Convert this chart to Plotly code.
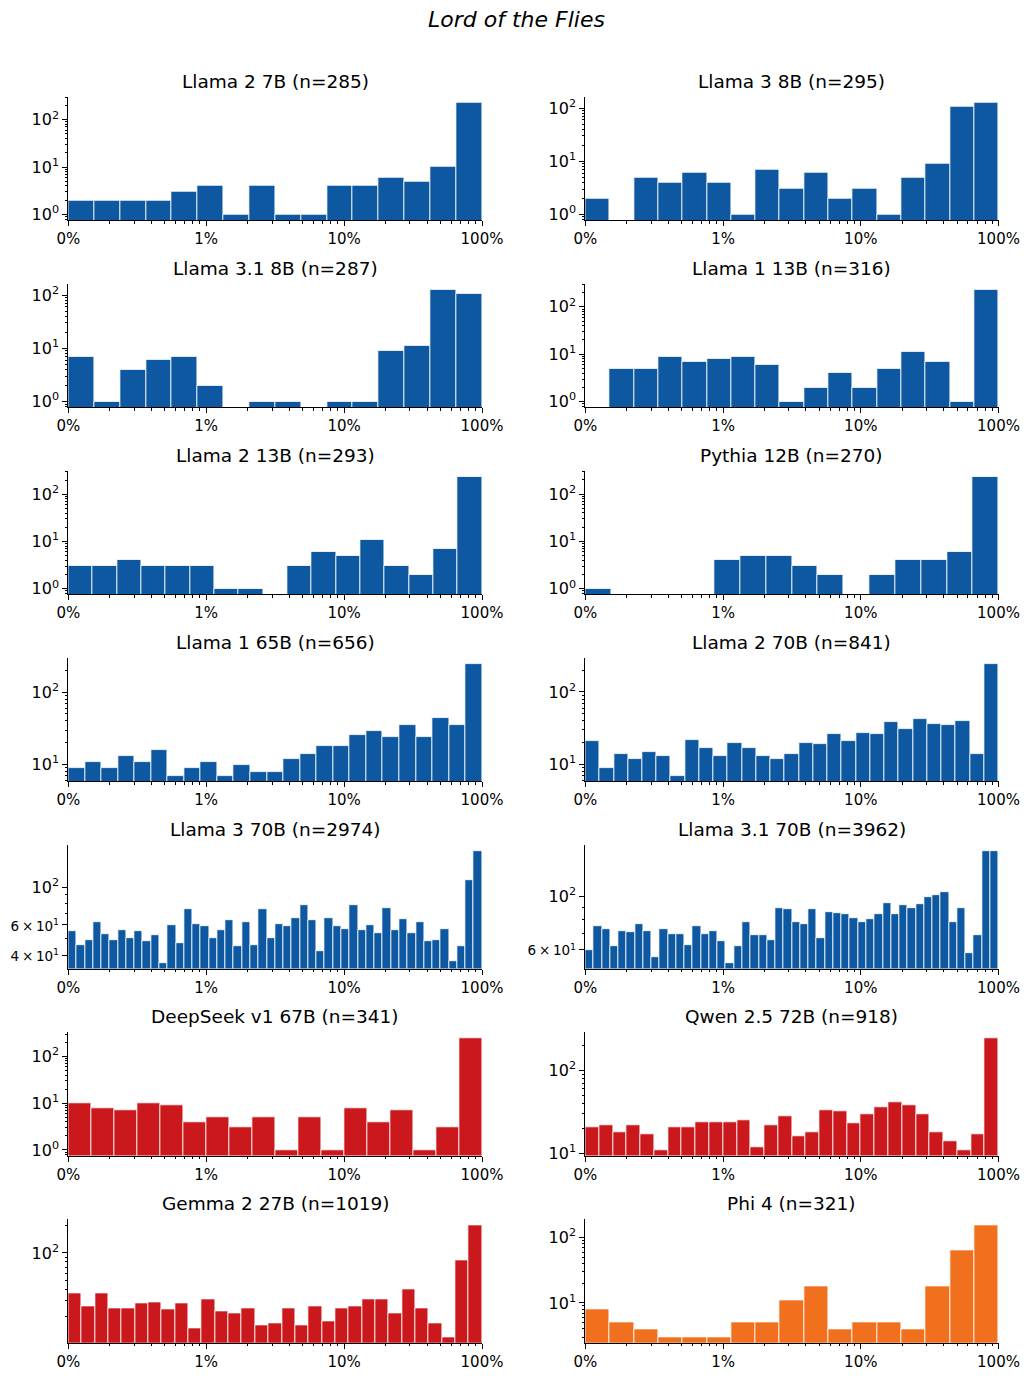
import numpy as np
import plotly.graph_objects as go

# ---------------- data ----------------
models = ["Llama 2 7B", "Llama 3 8B", "Llama 3.1 8B", "Llama 1 13B", "Llama 2 13B",
          "Pythia 12B", "Llama 1 65B", "Llama 2 70B", "Llama 3 70B", "Llama 3.1 70B",
          "DeepSeek v1 67B", "Qwen 2.5 72B", "Gemma 2 27B", "Phi 4"]
n_docs = [285, 295, 287, 316, 293, 270, 656, 841, 2974, 3962, 341, 918, 1019, 321]

llama2_7b = [2, 2, 2, 2, 3, 4, 1, 4, 1, 1, 4, 4, 6, 5, 10, 232]
llama3_8b = [2, 0, 5, 4, 6, 4, 1, 7, 3, 6, 2, 3, 1, 5, 9, 108, 129]
llama31_8b = [7, 1, 4, 6, 7, 2, 0, 1, 1, 0, 1, 1, 9, 11, 128, 108]
llama1_13b = [0, 5, 5, 9, 7, 8, 9, 6, 1, 2, 4, 2, 5, 11, 7, 1, 234]
llama2_13b = [3, 3, 4, 3, 3, 3, 1, 1, 0, 3, 6, 5, 11, 3, 2, 7, 238]
pythia_12b = [1, 0, 0, 0, 0, 4, 5, 5, 3, 2, 0, 2, 4, 4, 6, 236]
llama1_65b = [9, 11, 9, 13, 11, 16, 7, 9, 11, 7, 10, 8, 8, 12, 14, 18, 18, 26, 29, 24,
              35, 24, 44, 35, 248]
llama2_70b = [21, 9, 14, 12, 15, 13, 7, 22, 17, 13, 20, 17, 13, 12, 14, 20, 19, 26, 21, 27,
              26, 38, 31, 43, 36, 35, 40, 14, 246]
llama3_70b = [55, 46, 49, 62, 53, 49, 56, 50, 55, 48, 52, 36, 60, 47, 74, 61, 59, 50, 56, 64,
              45, 62, 46, 74, 50, 61, 59, 66, 78, 64, 42, 66, 59, 57, 78, 56, 60, 54, 75, 56,
              65, 54, 62, 48, 49, 57, 37, 45, 110, 163]
llama31_70b = [60, 75, 73, 62, 72, 71, 77, 72, 56, 73, 70, 70, 63, 75, 70, 72, 65, 53, 62, 78,
               69, 69, 66, 89, 88, 78, 77, 88, 67, 86, 85, 84, 81, 78, 80, 84, 94, 84, 92, 89,
               93, 99, 101, 104, 78, 89, 58, 69, 154, 154]
deepseek_67b = [10, 8, 7, 10, 9, 4, 5, 3, 5, 1, 5, 1, 8, 4, 7, 1, 3, 250]
qwen25_72b = [21, 22, 18, 22, 17, 11, 21, 21, 24, 24, 24, 25, 12, 22, 28, 16, 18, 33, 32, 23,
              30, 36, 42, 38, 30, 18, 14, 11, 17, 248]
gemma2_27b = [36, 26, 36, 25, 25, 28, 29, 24, 28, 15, 31, 23, 22, 25, 16, 17, 25, 16, 26, 18,
              25, 26, 31, 31, 22, 40, 25, 17, 12, 83, 203]
phi4 = [8, 5, 4, 3, 3, 3, 5, 5, 11, 18, 4, 5, 5, 4, 18, 64, 156]

all_counts = [llama2_7b, llama3_8b, llama31_8b, llama1_13b, llama2_13b, pythia_12b,
              llama1_65b, llama2_70b, llama3_70b, llama31_70b, deepseek_67b, qwen25_72b,
              gemma2_27b, phi4]
families = ["blue"] * 10 + ["red", "red", "red", "orange"]

x_tick_labels = ["0%", "1%", "10%", "100%"]

SMALL = "<span style='font-size:13.5px'>{}</span>"
y_ticks = [
    [(1, "10<sup>0</sup>"), (10, "10<sup>1</sup>"), (100, "10<sup>2</sup>")],
] * 6 + [
    [(10, "10<sup>1</sup>"), (100, "10<sup>2</sup>")],
    [(10, "10<sup>1</sup>"), (100, "10<sup>2</sup>")],
    [(40, SMALL.format("4\u2009×\u200910<sup>1</sup>")),
     (60, SMALL.format("6\u2009×\u200910<sup>1</sup>")),
     (100, "10<sup>2</sup>")],
    [(60, SMALL.format("6\u2009×\u200910<sup>1</sup>")),
     (100, "10<sup>2</sup>")],
    [(1, "10<sup>0</sup>"), (10, "10<sup>1</sup>"), (100, "10<sup>2</sup>")],
    [(10, "10<sup>1</sup>"), (100, "10<sup>2</sup>")],
    [(100, "10<sup>2</sup>")],
    [(10, "10<sup>1</sup>"), (100, "10<sup>2</sup>")],
]

# ---------------- styling ----------------
COLORS = {"blue": "#0e58a1", "red": "#cb181d", "orange": "#f0701e"}
W, H = 1032, 1378
FONT = "DejaVu Sans"
XMIN, XMAX = -1.0, 2.0  # log10 of percent

col_x = [(68.3, 482.0), (585.3, 998.5)]
row_top0, row_step, ax_h = 96.7, 187.1, 123.4

x_minor = [d + np.log10(k) for d in range(-1, 2) for k in range(2, 10)]

fig = go.Figure()
layout = {}
annotations = []

for i, (name, n, counts, fam, yt) in enumerate(zip(models, n_docs, all_counts, families, y_ticks)):
    r, c = divmod(i, 2)
    nb = len(counts)
    edges = np.linspace(XMIN, XMAX, nb + 1)
    centers = (edges[:-1] + edges[1:]) / 2
    yvals = [v if v > 0 else None for v in counts]
    xa = "x" if i == 0 else f"x{i+1}"
    ya = "y" if i == 0 else f"y{i+1}"
    fig.add_trace(go.Bar(
        x=centers, y=yvals, width=(XMAX - XMIN) / nb,
        marker=dict(color=COLORS[fam], line=dict(color="white", width=0.8)),
        xaxis=xa, yaxis=ya, showlegend=False, hoverinfo="skip"))

    nz = [v for v in counts if v > 0]
    lo, hi = np.log10(min(nz)), np.log10(max(nz))
    pad = 0.05 * (hi - lo)
    yr = [lo - pad, hi + pad]

    top = row_top0 + r * row_step
    bot = top + ax_h
    x0, x1 = col_x[c]
    xd = [x0 / W, x1 / W]
    yd = [1 - bot / H, 1 - top / H]

    tv = [t[0] for t in yt]
    tt = [t[1] for t in yt]
    y_minor = [k * 10 ** d for d in range(-1, 4) for k in range(2, 10)
               if k * 10 ** d not in tv]

    layout["xaxis" if i == 0 else f"xaxis{i+1}"] = dict(
        domain=xd, anchor=ya, range=[XMIN, XMAX], showgrid=False, zeroline=False,
        automargin=False,
        showline=True, linecolor="black", linewidth=1, ticks="outside", ticklen=5,
        tickwidth=1, tickcolor="black", tickmode="array", tickvals=[-1, 0, 1, 2],
        ticktext=x_tick_labels, tickfont=dict(family=FONT, size=15, color="black"),
        minor=dict(tickmode="array", tickvals=x_minor, ticks="outside", ticklen=2.5,
                   tickwidth=0.8, tickcolor="black"),
        fixedrange=True)
    layout["yaxis" if i == 0 else f"yaxis{i+1}"] = dict(
        domain=yd, anchor=xa, type="log", range=yr, showgrid=False, zeroline=False,
        automargin=False,
        showline=True, linecolor="black", linewidth=1, ticks="outside", ticklen=5,
        tickwidth=1, tickcolor="black", tickmode="array", tickvals=tv, ticktext=tt,
        tickfont=dict(family=FONT, size=16, color="black"),
        minor=dict(tickmode="array", tickvals=y_minor, ticks="outside", ticklen=2.5,
                   tickwidth=0.8, tickcolor="black"),
        fixedrange=True)

    annotations.append(dict(
        text=f"{name} (n={n})", x=(xd[0] + xd[1]) / 2, y=yd[1], xref="paper", yref="paper",
        xanchor="center", yanchor="bottom", yshift=3, showarrow=False,
        font=dict(family=FONT, size=18.5, color="black")))

annotations.append(dict(
    text="<i>Lord of the Flies</i>", x=0.5, y=1 - 20 / H, xref="paper", yref="paper",
    xanchor="center", yanchor="middle", showarrow=False,
    font=dict(family=FONT, size=22, color="black")))

fig.update_layout(
    width=W, height=H, autosize=False, margin=dict(l=0, r=0, t=0, b=0, pad=0),
    paper_bgcolor="white", plot_bgcolor="white", bargap=0, showlegend=False,
    annotations=annotations, **layout)

fig.write_html("out.html", config={"responsive": False})
